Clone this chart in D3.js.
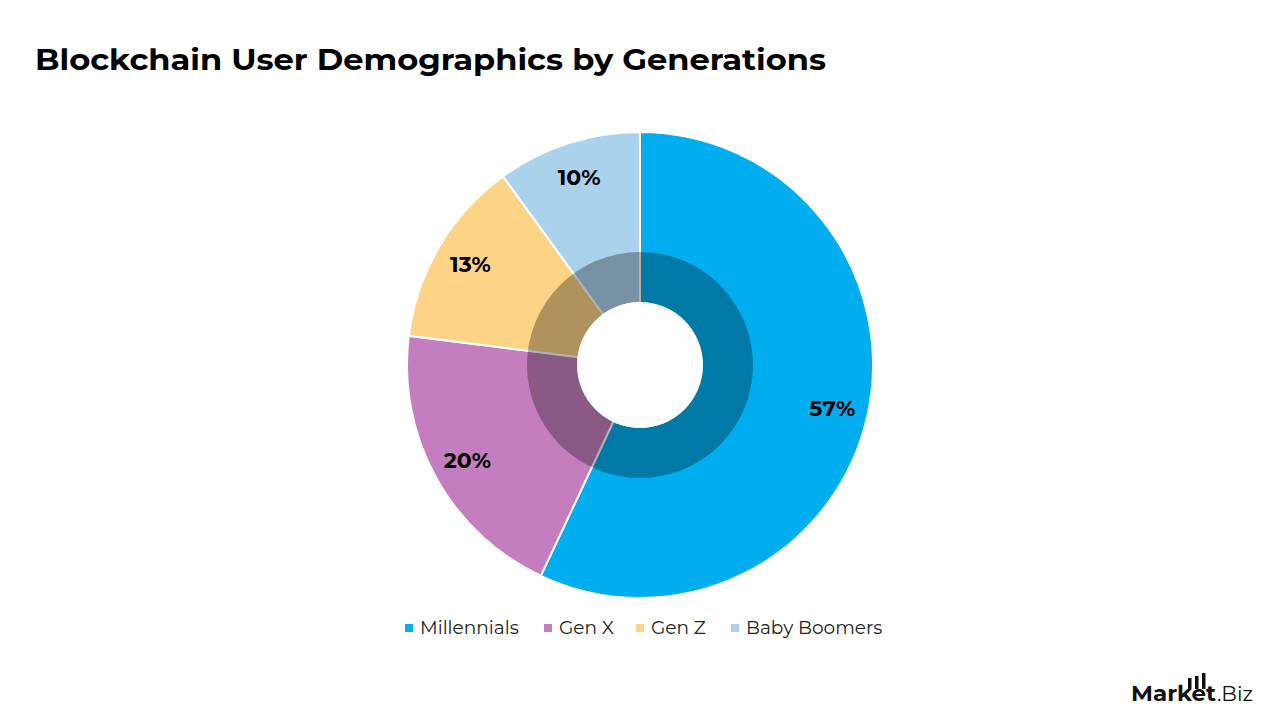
<!DOCTYPE html>
<html><head><meta charset="utf-8">
<script src="https://cdn.jsdelivr.net/npm/d3@7"></script>
<style>body{margin:0;background:#fff;}svg{display:block;}</style>
</head><body>
<svg id="c" width="1280" height="720"></svg>
<script>
const categories = ["Millennials", "Gen X", "Gen Z", "Baby Boomers"];
const values = [57, 20, 13, 10];
const labels = ["57%", "20%", "13%", "10%"];
const colors = ["#00AEEF", "#C47EBF", "#FDD385", "#ABD2EC"];

const svg = d3.select("#c");
const font = "Montserrat, 'Open Sans', 'Noto Sans', sans-serif";

svg.append("text").attr("x", 35).attr("y", 70)
  .attr("font-family", font).attr("font-weight", 700).attr("font-size", 29)
  .attr("textLength", 791).attr("lengthAdjust", "spacingAndGlyphs")
  .attr("fill", "#000").text("Blockchain User Demographics by Generations");

const cx = 640, cy = 365, R = 233;
const g = svg.append("g").attr("transform", `translate(${cx},${cy})`);
const pie = d3.pie().sort(null).value(d => d)(values);
const arc = d3.arc().innerRadius(0).outerRadius(R);
g.selectAll("path.s").data(pie).join("path").attr("class", "s")
  .attr("d", arc).attr("fill", (d, i) => colors[i])
  .attr("stroke", "#fff").attr("stroke-width", 2);

// darker inner ring
g.append("path").attr("d", d3.arc().innerRadius(63).outerRadius(113).startAngle(0).endAngle(2 * Math.PI)())
  .attr("fill", "#000").attr("fill-opacity", 0.3);
g.append("circle").attr("r", 63).attr("fill", "#fff");

const lab = d3.arc().innerRadius(197).outerRadius(197);
g.selectAll("text.l").data(pie).join("text").attr("class", "l")
  .attr("transform", d => `translate(${lab.centroid(d)})`)
  .attr("text-anchor", "middle").attr("dy", "0.35em")
  .attr("font-family", font).attr("font-weight", 700).attr("font-size", 22)
  .attr("fill", "#000").text((d, i) => labels[i]);

// legend
const legX = [405, 544, 636, 731];
const lg = svg.append("g");
categories.forEach((c, i) => {
  lg.append("rect").attr("x", legX[i]).attr("y", 624).attr("width", 8).attr("height", 8).attr("fill", colors[i]);
  lg.append("text").attr("x", legX[i] + 15).attr("y", 634)
    .attr("font-family", font).attr("font-size", 18.5).attr("fill", "#222").text(c);
});

// logo
const lo = svg.append("g");
lo.append("text").attr("x", 1131).attr("y", 701).attr("font-family", font).attr("font-weight", 700)
  .attr("font-size", 21).attr("textLength", 85).attr("lengthAdjust", "spacingAndGlyphs")
  .attr("fill", "#111").text("Market");
lo.append("text").attr("x", 1217).attr("y", 701).attr("font-family", font).attr("font-weight", 400)
  .attr("font-size", 21).attr("textLength", 36).attr("lengthAdjust", "spacingAndGlyphs")
  .attr("fill", "#111").text(".Biz");
[[1188, 678], [1195, 676], [1202, 673]].forEach(b =>
  lo.append("rect").attr("x", b[0]).attr("y", b[1]).attr("width", 3.5).attr("height", 689 - b[1]).attr("fill", "#111"));
</script>
</body></html>
